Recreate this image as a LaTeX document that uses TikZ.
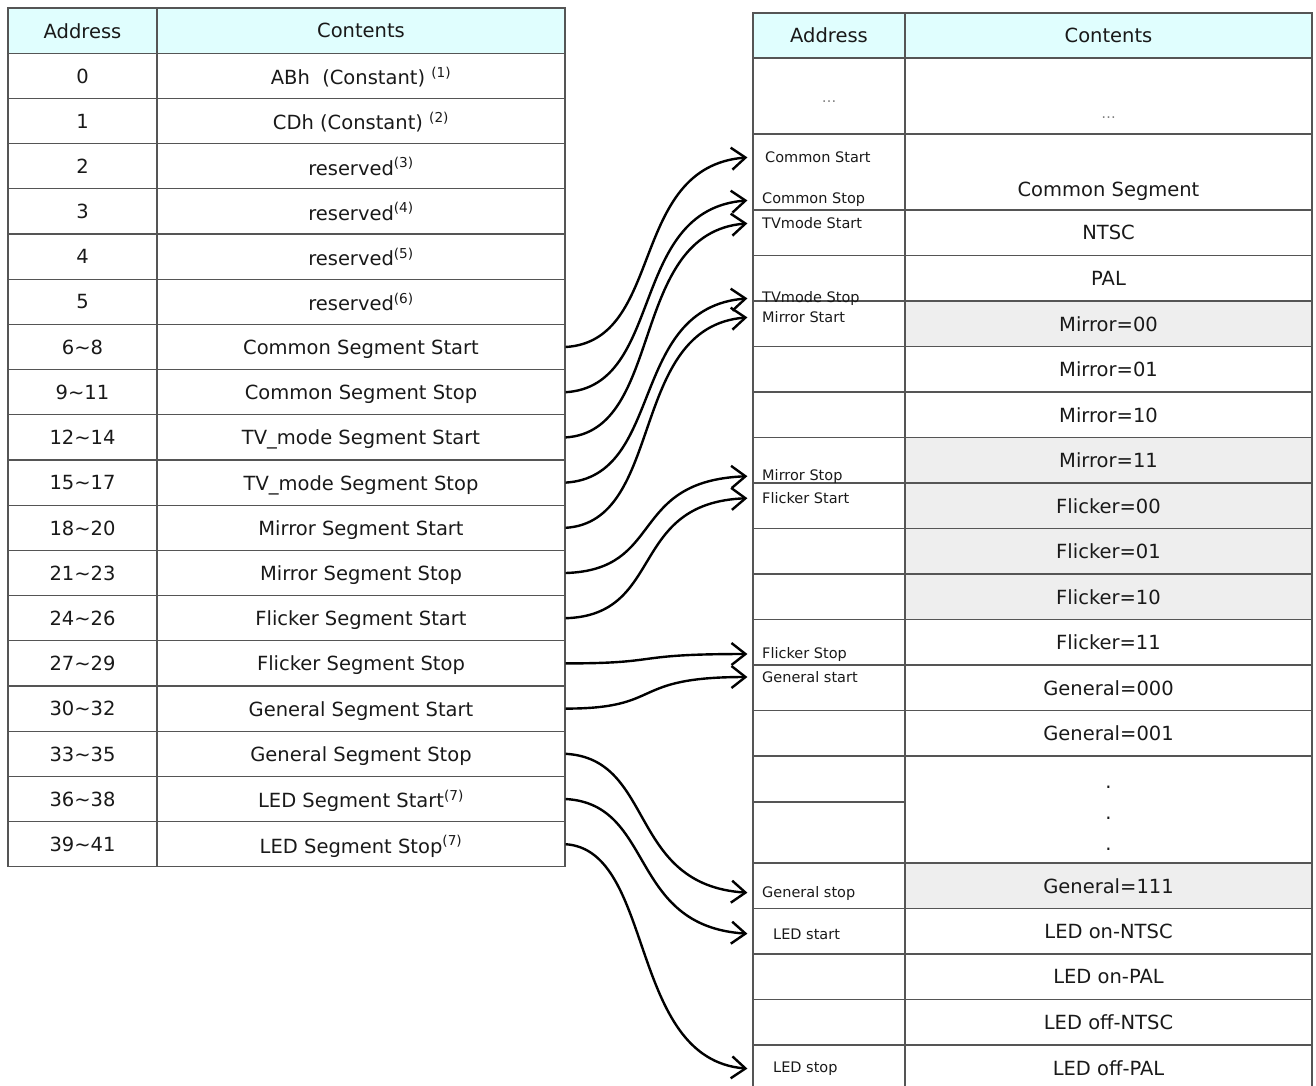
\documentclass[tikz,border=0pt]{standalone}
\usepackage{fontspec}
\setmainfont{DejaVu Sans}
\usetikzlibrary{arrows.meta}

\definecolor{headfill}{RGB}{224,254,254}
\definecolor{grayfill}{RGB}{238,238,238}
\definecolor{gridline}{RGB}{85,85,85}
\definecolor{inkcol}{RGB}{25,25,25}

\newcommand{\cellfnt}{\fontsize{19.5}{22}\selectfont}
\newcommand{\segfnt}{\fontsize{14.5}{16}\selectfont}

\tikzset{
	addrcell/.style={draw=gridline, line width=1.2pt, inner sep=0pt, minimum width=149pt, minimum height=45.2pt, text depth=0pt, text=inkcol, font=\cellfnt},
	contcell/.style={addrcell, minimum width=408pt},
	raddrcell/.style={addrcell, minimum width=152pt, minimum height=45.5pt},
	rcontcell/.style={addrcell, minimum width=407pt, minimum height=45.5pt},
	headrow/.style={fill=headfill},
	grayrow/.style={fill=grayfill},
	seglabel/.style={anchor=west, inner sep=0pt, text=inkcol, font=\segfnt},
	link/.style={line width=2.4pt, -{Straight Barb[length=14pt,width=22pt]}, shorten >=5pt}
}

\begin{document}
\begin{tikzpicture}[x=1pt, y=-1pt]
	\useasboundingbox ( 0, 0 ) rectangle ( 1316, 1085 );
	% header table on the left
	\node [addrcell, headrow] (la0) at ( 82.5, 30.6 ) {Address};
	\node [contcell, headrow] (lc0) at ( 361, 30.6 ) {Contents};
	\node [addrcell] (la1) at ( 82.5, 75.8 ) {0};
	\node [contcell] (lc1) at ( 361, 75.8 ) {ABh~~(Constant) \textsuperscript{(1)}};
	\node [addrcell] (la2) at ( 82.5, 121.0 ) {1};
	\node [contcell] (lc2) at ( 361, 121.0 ) {CDh (Constant) \textsuperscript{(2)}};
	\node [addrcell] (la3) at ( 82.5, 166.2 ) {2};
	\node [contcell] (lc3) at ( 361, 166.2 ) {reserved\textsuperscript{(3)}};
	\node [addrcell] (la4) at ( 82.5, 211.4 ) {3};
	\node [contcell] (lc4) at ( 361, 211.4 ) {reserved\textsuperscript{(4)}};
	\node [addrcell] (la5) at ( 82.5, 256.6 ) {4};
	\node [contcell] (lc5) at ( 361, 256.6 ) {reserved\textsuperscript{(5)}};
	\node [addrcell] (la6) at ( 82.5, 301.8 ) {5};
	\node [contcell] (lc6) at ( 361, 301.8 ) {reserved\textsuperscript{(6)}};
	\node [addrcell] (la7) at ( 82.5, 347.0 ) {6\textasciitilde 8};
	\node [contcell] (lc7) at ( 361, 347.0 ) {Common Segment Start};
	\node [addrcell] (la8) at ( 82.5, 392.2 ) {9\textasciitilde 11};
	\node [contcell] (lc8) at ( 361, 392.2 ) {Common Segment Stop};
	\node [addrcell] (la9) at ( 82.5, 437.4 ) {12\textasciitilde 14};
	\node [contcell] (lc9) at ( 361, 437.4 ) {TV\_mode Segment Start};
	\node [addrcell] (la10) at ( 82.5, 482.6 ) {15\textasciitilde 17};
	\node [contcell] (lc10) at ( 361, 482.6 ) {TV\_mode Segment Stop};
	\node [addrcell] (la11) at ( 82.5, 527.8 ) {18\textasciitilde 20};
	\node [contcell] (lc11) at ( 361, 527.8 ) {Mirror Segment Start};
	\node [addrcell] (la12) at ( 82.5, 573.0 ) {21\textasciitilde 23};
	\node [contcell] (lc12) at ( 361, 573.0 ) {Mirror Segment Stop};
	\node [addrcell] (la13) at ( 82.5, 618.2 ) {24\textasciitilde 26};
	\node [contcell] (lc13) at ( 361, 618.2 ) {Flicker Segment Start};
	\node [addrcell] (la14) at ( 82.5, 663.4 ) {27\textasciitilde 29};
	\node [contcell] (lc14) at ( 361, 663.4 ) {Flicker Segment Stop};
	\node [addrcell] (la15) at ( 82.5, 708.6 ) {30\textasciitilde 32};
	\node [contcell] (lc15) at ( 361, 708.6 ) {General Segment Start};
	\node [addrcell] (la16) at ( 82.5, 753.8 ) {33\textasciitilde 35};
	\node [contcell] (lc16) at ( 361, 753.8 ) {General Segment Stop};
	\node [addrcell] (la17) at ( 82.5, 799.0 ) {36\textasciitilde 38};
	\node [contcell] (lc17) at ( 361, 799.0 ) {LED Segment Start\textsuperscript{(7)}};
	\node [addrcell] (la18) at ( 82.5, 844.2 ) {39\textasciitilde 41};
	\node [contcell] (lc18) at ( 361, 844.2 ) {LED Segment Stop\textsuperscript{(7)}};

	% segment table on the right
	\node [raddrcell, headrow, minimum height=45pt] (ra0) at ( 829, 35.5 ) {Address};
	\node [rcontcell, headrow, minimum height=45pt] (rc0) at ( 1108.5, 35.5 ) {Contents};
	\node [raddrcell, minimum height=76pt] (ra1) at ( 829, 96 ) {};
	\node [rcontcell, minimum height=76pt] (rc1) at ( 1108.5, 96 ) {};
	\node [text=gray, font=\segfnt, inner sep=0pt] (dotsA) at ( 829, 102 ) {\ldots};
	\node [text=gray, font=\segfnt, inner sep=0pt] (dotsB) at ( 1108.5, 118 ) {\ldots};
	\node [raddrcell, minimum height=76pt] (ra2) at ( 829, 172 ) {};
	\node [rcontcell, minimum height=76pt] (rc2) at ( 1108.5, 172 ) {};
	\node [text=inkcol, font=\cellfnt, text depth=0pt] (comseg) at ( 1108.5, 189 ) {Common Segment};
	\node [raddrcell] (ra3) at ( 829, 232.75 ) {};
	\node [rcontcell] (rc3) at ( 1108.5, 232.75 ) {NTSC};
	\node [raddrcell] (ra4) at ( 829, 278.25 ) {};
	\node [rcontcell] (rc4) at ( 1108.5, 278.25 ) {PAL};
	\node [raddrcell] (ra5) at ( 829, 323.75 ) {};
	\node [rcontcell, grayrow] (rc5) at ( 1108.5, 323.75 ) {Mirror=00};
	\node [raddrcell] (ra6) at ( 829, 369.25 ) {};
	\node [rcontcell] (rc6) at ( 1108.5, 369.25 ) {Mirror=01};
	\node [raddrcell] (ra7) at ( 829, 414.75 ) {};
	\node [rcontcell] (rc7) at ( 1108.5, 414.75 ) {Mirror=10};
	\node [raddrcell] (ra8) at ( 829, 460.25 ) {};
	\node [rcontcell, grayrow] (rc8) at ( 1108.5, 460.25 ) {Mirror=11};
	\node [raddrcell] (ra9) at ( 829, 505.75 ) {};
	\node [rcontcell, grayrow] (rc9) at ( 1108.5, 505.75 ) {Flicker=00};
	\node [raddrcell] (ra10) at ( 829, 551.25 ) {};
	\node [rcontcell, grayrow] (rc10) at ( 1108.5, 551.25 ) {Flicker=01};
	\node [raddrcell] (ra11) at ( 829, 596.75 ) {};
	\node [rcontcell, grayrow] (rc11) at ( 1108.5, 596.75 ) {Flicker=10};
	\node [raddrcell] (ra12) at ( 829, 642.25 ) {};
	\node [rcontcell] (rc12) at ( 1108.5, 642.25 ) {Flicker=11};
	\node [raddrcell] (ra13) at ( 829, 687.75 ) {};
	\node [rcontcell] (rc13) at ( 1108.5, 687.75 ) {General=000};
	\node [raddrcell] (ra14) at ( 829, 733.25 ) {};
	\node [rcontcell] (rc14) at ( 1108.5, 733.25 ) {General=001};
	\node [raddrcell, minimum height=46pt] (ra15) at ( 829, 779 ) {};
	\node [raddrcell, minimum height=61pt] (ra16) at ( 829, 832.5 ) {};
	\node [rcontcell, minimum height=107pt] (rc15) at ( 1108.5, 809.5 ) {};
	\node [text=inkcol, font=\cellfnt, inner sep=0pt] (vdot1) at ( 1108.5, 787 ) {.};
	\node [text=inkcol, font=\cellfnt, inner sep=0pt] (vdot2) at ( 1108.5, 818 ) {.};
	\node [text=inkcol, font=\cellfnt, inner sep=0pt] (vdot3) at ( 1108.5, 849 ) {.};
	\node [raddrcell] (ra17) at ( 829, 885.75 ) {};
	\node [rcontcell, grayrow] (rc17) at ( 1108.5, 885.75 ) {General=111};
	\node [raddrcell] (ra18) at ( 829, 931.25 ) {};
	\node [rcontcell] (rc18) at ( 1108.5, 931.25 ) {LED on-NTSC};
	\node [raddrcell] (ra19) at ( 829, 976.75 ) {};
	\node [rcontcell] (rc19) at ( 1108.5, 976.75 ) {LED on-PAL};
	\node [raddrcell] (ra20) at ( 829, 1022.25 ) {};
	\node [rcontcell] (rc20) at ( 1108.5, 1022.25 ) {LED off-NTSC};
	\node [raddrcell] (ra21) at ( 829, 1067.75 ) {};
	\node [rcontcell] (rc21) at ( 1108.5, 1067.75 ) {LED off-PAL};

	% start / stop marks
	\node [seglabel] (sCommon) at ( 765, 157 ) {Common Start};
	\node [seglabel] (eCommon) at ( 762, 200 ) {Common Stop};
	\node [seglabel] (sTV) at ( 762, 223 ) {TVmode Start};
	\node [seglabel] (eTV) at ( 762, 298 ) {TVmode Stop};
	\node [seglabel] (sMirror) at ( 762, 317 ) {Mirror Start};
	\node [seglabel] (eMirror) at ( 762, 476 ) {Mirror Stop};
	\node [seglabel] (sFlicker) at ( 762, 498 ) {Flicker Start};
	\node [seglabel] (eFlicker) at ( 762, 654 ) {Flicker Stop};
	\node [seglabel] (sGeneral) at ( 762, 677 ) {General start};
	\node [seglabel] (eGeneral) at ( 762, 893 ) {General stop};
	\node [seglabel] (sLED) at ( 773, 934 ) {LED start};
	\node [seglabel] (eLED) at ( 773, 1069 ) {LED stop};

	% pointers
	\draw [link] (lc7.east) .. controls +( 100, -6 ) and +( -125, 10 ) .. (sCommon.west -| ra2.west);
	\draw [link] (lc8.east) .. controls +( 100, -6 ) and +( -125, 10 ) .. (eCommon.west -| ra2.west);
	\draw [link] (lc9.east) .. controls +( 100, -6 ) and +( -125, 10 ) .. (sTV.west -| ra3.west);
	\draw [link] (lc10.east) .. controls +( 100, -6 ) and +( -125, 10 ) .. (eTV.west -| ra4.west);
	\draw [link] (lc11.east) .. controls +( 100, -6 ) and +( -125, 10 ) .. (sMirror.west -| ra5.west);
	\draw [link] (lc12.east) .. controls +( 100, -3 ) and +( -125, 5 ) .. (eMirror.west -| ra8.west);
	\draw [link] (lc13.east) .. controls +( 100, -3 ) and +( -125, 5 ) .. (sFlicker.west -| ra9.west);
	\draw [link] (lc14.east) .. controls +( 100, 0 ) and +( -125, 0 ) .. (eFlicker.west -| ra12.west);
	\draw [link] (lc15.east) .. controls +( 100, 0 ) and +( -125, 0 ) .. (sGeneral.west -| ra13.west);
	\draw [link] (lc16.east) .. controls +( 90, 5 ) and +( -125, -8 ) .. (eGeneral.west -| ra17.west);
	\draw [link] (lc17.east) .. controls +( 90, 5 ) and +( -125, -8 ) .. (sLED.west -| ra18.west);
	\draw [link] (lc18.east) .. controls +( 90, 6 ) and +( -125, -10 ) .. (eLED.west -| ra21.west);
\end{tikzpicture}
\end{document}
